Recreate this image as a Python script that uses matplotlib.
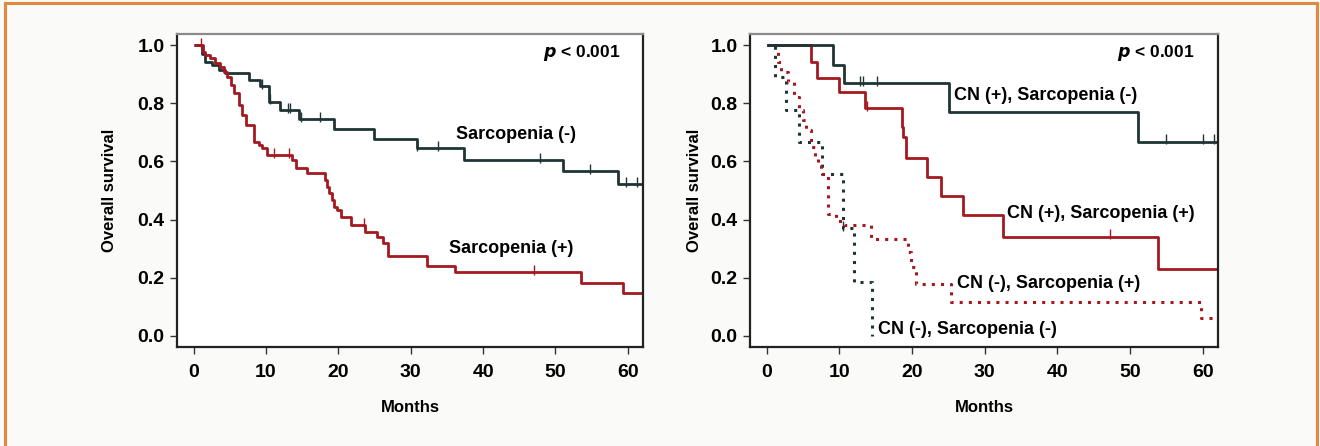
import numpy as np
import matplotlib
matplotlib.use('Agg')
import matplotlib.pyplot as plt
from matplotlib.lines import Line2D

plt.rcParams['font.family'] = ['Liberation Sans', 'DejaVu Sans']
plt.rcParams['font.weight'] = 'bold'

BLACK = '#1f3434'
RED = '#a3191f'
END = 62.5

# left panel: Sarcopenia (-) / (+)
neg_t = [0, 1.2, 1.5, 2.5, 3.5, 4.4, 7.6, 9.2, 10.4, 12.0, 14.5, 19.4, 24.9, 30.9, 37.3, 51.1, 58.7]
neg_s = [1.0, 0.97, 0.943, 0.93, 0.915, 0.903, 0.880, 0.859, 0.805, 0.777, 0.745, 0.710, 0.677, 0.645, 0.605, 0.567, 0.521]
neg_cens = [9.4, 10.6, 13.0, 13.3, 14.9, 17.4, 30.9, 33.8, 47.9, 54.8, 59.7, 61.3]

pos_t = [0, 1.3, 1.6, 2.3, 3.0, 3.7, 4.2, 4.6, 5.1, 5.6, 6.2, 6.7, 7.2, 8.3, 9.0, 9.4, 10.1,
         13.6, 14.1, 15.7, 18.2, 18.4, 18.7, 19.1, 19.4, 19.8, 20.3, 21.7, 23.7, 25.3, 26.2,
         26.9, 32.2, 36.1, 53.6, 59.4]
pos_s = [1.0, 0.975, 0.966, 0.954, 0.937, 0.923, 0.908, 0.891, 0.863, 0.834, 0.794, 0.760, 0.725,
         0.668, 0.656, 0.645, 0.622, 0.605, 0.576, 0.559, 0.536, 0.513, 0.490, 0.467, 0.444,
         0.433, 0.410, 0.381, 0.358, 0.339, 0.319, 0.275, 0.242, 0.219, 0.181, 0.147]
pos_cens = [1.0, 11.1, 13.2, 23.5, 47.0]

# right panel: CN x Sarcopenia
pn_t = [0, 9.1, 10.7, 25.1, 51.1]
pn_s = [1.0, 0.931, 0.868, 0.771, 0.668]
pn_cens = [12.9, 13.3, 15.2, 55.0, 60.0, 61.6]

pp_t = [0, 6.1, 6.9, 10.0, 13.5, 18.6, 18.8, 19.1, 22.0, 24.0, 27.0, 32.5, 53.9]
pp_s = [1.0, 0.943, 0.886, 0.840, 0.782, 0.719, 0.685, 0.611, 0.547, 0.482, 0.415, 0.341, 0.229]
pp_cens = [13.8, 47.2]

np_t = [0, 1.5, 2.0, 2.9, 3.8, 4.5, 5.0, 5.4, 6.1, 6.6, 7.0, 7.4, 8.4, 9.6, 10.7, 14.3,
        19.4, 19.8, 20.5, 25.3, 59.7]
np_s = [1.0, 0.94, 0.908, 0.874, 0.823, 0.777, 0.742, 0.708, 0.651, 0.611, 0.588, 0.556,
        0.42, 0.395, 0.381, 0.333, 0.29, 0.238, 0.178, 0.118, 0.06]

nn_t = [0, 1.1, 2.7, 4.4, 7.6, 10.5, 12.0, 14.5]
nn_s = [1.0, 0.889, 0.778, 0.667, 0.556, 0.370, 0.185, 0.0]
nn_cens = [10.5]


def km(ax, t, s, color, ls='-', cens=(), end=END):
    t = list(t) + [end]
    s = list(s) + [s[-1]]
    if ls == '-':
        ax.step(t, s, where='post', color=color, lw=2.0, solid_capstyle='butt')
    else:
        ax.step(t, s, where='post', color=color, lw=2.2, linestyle=(0, (1, 2.0)))
    if len(cens):
        idx = np.searchsorted(t, cens, side='right') - 1
        ax.plot(cens, np.array(s)[idx] + 0.008, linestyle='none', marker='|',
                color=color, markersize=7, markeredgewidth=1.0)


def style(ax):
    ax.set_xlim(-2.3, 62.1)
    ax.set_ylim(-0.038, 1.038)
    ax.set_xticks(range(0, 61, 10))
    ax.set_yticks(np.arange(0, 1.01, 0.2))
    ax.set_yticklabels(['0.0', '0.2', '0.4', '0.6', '0.8', '1.0'])
    ax.tick_params(axis='both', labelsize=14, width=1.0, length=5, color='#333333')
    ax.tick_params(axis='x', pad=7)
    ax.tick_params(axis='y', pad=4)
    for side in ['left', 'right', 'bottom']:
        ax.spines[side].set_linewidth(1.6)
        ax.spines[side].set_color('#222222')
    ax.spines['top'].set_linewidth(1.6)
    ax.spines['top'].set_color('#8a8a8a')
    ax.set_xlabel('Months', fontsize=12, fontweight='bold', labelpad=14)
    ax.set_ylabel('Overall survival', fontsize=12, fontweight='bold', labelpad=15)
    ax.text(53.6, 0.973, '$\\mathbfit{p}$ < 0.001', fontsize=12.5, ha='center', va='center')


fig = plt.figure(figsize=(13.2, 4.46), dpi=100, facecolor='#fafaf8')
ax1 = fig.add_axes([0.1341, 0.2220, 0.3530, 0.7018])
ax2 = fig.add_axes([0.5682, 0.2220, 0.3545, 0.7018])

km(ax1, neg_t, neg_s, BLACK, cens=neg_cens)
km(ax1, pos_t, pos_s, RED, cens=pos_cens)
style(ax1)
ax1.text(44.5, 0.691, 'Sarcopenia (-)', fontsize=13, ha='center', va='center')
ax1.text(43.9, 0.301, 'Sarcopenia (+)', fontsize=13, ha='center', va='center')

km(ax2, nn_t, nn_s, BLACK, ls=':', cens=nn_cens, end=14.5)
km(ax2, np_t, np_s, RED, ls=':')
km(ax2, pp_t, pp_s, RED, cens=pp_cens)
km(ax2, pn_t, pn_s, BLACK, cens=pn_cens)
style(ax2)
ax2.yaxis.labelpad = 6
ax2.text(38.4, 0.828, 'CN (+), Sarcopenia (-)', fontsize=13, ha='center', va='center')
ax2.text(46.0, 0.422, 'CN (+), Sarcopenia (+)', fontsize=13, ha='center', va='center')
ax2.text(38.8, 0.181, 'CN (-), Sarcopenia (+)', fontsize=13, ha='center', va='center')
ax2.text(27.6, 0.021, 'CN (-), Sarcopenia (-)', fontsize=13, ha='center', va='center')

# orange frame
ORANGE = '#e3893f'
fig.add_artist(Line2D([0.004, 0.998], [0.993, 0.993], color=ORANGE, lw=2.2, transform=fig.transFigure))
fig.add_artist(Line2D([0.004, 0.004], [0.0, 0.993], color=ORANGE, lw=2.2, transform=fig.transFigure))
fig.add_artist(Line2D([0.998, 0.998], [0.0, 0.993], color=ORANGE, lw=2.2, transform=fig.transFigure))

fig.savefig('out.png', dpi=100, facecolor=fig.get_facecolor())
